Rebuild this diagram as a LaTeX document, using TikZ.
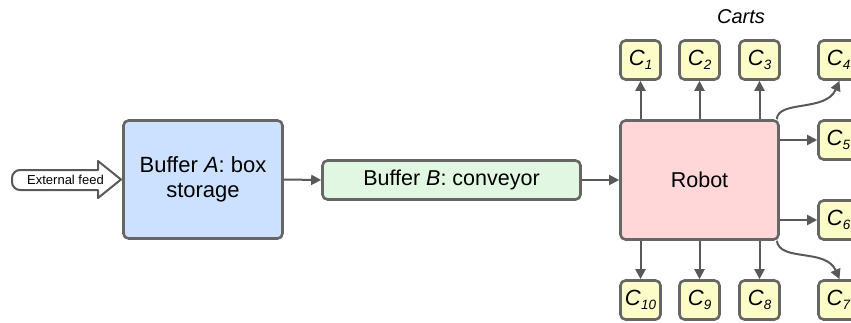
\documentclass[tikz,border=0pt]{standalone}
\usepackage{fontspec}
\setmainfont{Liberation Sans}
\usetikzlibrary{arrows.meta}
\definecolor{bord}{HTML}{666666}
\definecolor{arrc}{HTML}{595959}
\definecolor{blueF}{HTML}{CCE1FF}
\definecolor{greenF}{HTML}{E1F7E1}
\definecolor{redF}{HTML}{FFD7D9}
\definecolor{cartF}{HTML}{FCFCC8}
\newcommand{\cartlab}[1]{\textit{C}{\fontsize{13.5}{13.5}\selectfont\raisebox{-4.5pt}{\textit{#1}}}}
\tikzset{
  boxA/.style={draw=bord, line width=2.6pt, rounded corners=5pt, align=center, inner sep=0pt},
  cartbox/.style={boxA, fill=cartF, minimum width=40pt, minimum height=39pt, font=\fontsize{22}{22}\selectfont},
  arr/.style={draw=arrc, line width=2pt, -{Triangle[length=10pt,width=10pt]}},
}
\begin{document}
\begin{tikzpicture}[x=1pt,y=-1pt]
\useasboundingbox (0,0) rectangle (851,322);
\clip (0,0) rectangle (851,322);
% external feed
\draw[draw=arrc, fill=white, line width=2pt, line join=round]
  (98,161) -- (121,179.5) -- (98,198) -- (98,190)
  [rounded corners=8pt] -- (12,190) -- (12,170) [sharp corners] -- (98,170) -- cycle;
\node[font=\fontsize{13}{13}\selectfont] (feed) at (65.5,179.5) {External feed};
% main boxes
\node[boxA, fill=blueF, minimum width=159pt, minimum height=118pt, font=\fontsize{22}{25}\selectfont] (bufA) at (203,179.5) {Buffer \textit{A}: box\\storage};
\node[boxA, fill=greenF, minimum width=258pt, minimum height=39pt, font=\fontsize{21.5}{21.5}\selectfont] (bufB) at (451.5,180) {Buffer \textit{B}: conveyor};
\node[boxA, fill=redF, minimum width=158pt, minimum height=119pt, font=\fontsize{21.5}{21.5}\selectfont] (robot) at (699.5,180) {Robot};
% carts
\node[cartbox] (c1) at (640.5,60) {\cartlab{1}};
\node[cartbox] (c2) at (699.5,60) {\cartlab{2}};
\node[cartbox] (c3) at (759.5,60) {\cartlab{3}};
\node[cartbox] (c4) at (838.5,60) {\cartlab{4}};
\node[cartbox] (c5) at (838.5,140) {\cartlab{5}};
\node[cartbox] (c6) at (838.5,220) {\cartlab{6}};
\node[cartbox] (c7) at (838.5,300) {\cartlab{7}};
\node[cartbox] (c8) at (759.5,300) {\cartlab{8}};
\node[cartbox] (c9) at (699.5,300) {\cartlab{9}};
\node[cartbox] (c10) at (640.5,300) {\cartlab{10}};
\node[font=\fontsize{20}{20}\selectfont\itshape] (carts) at (741,17) {Carts};
% connectors
\draw[arr] (bufA.east) -- (bufB.west);
\draw[arr] (bufB.east) -- (robot.west);
\draw[arr] (c1 |- robot.north) -- (c1.south);
\draw[arr] (c2 |- robot.north) -- (c2.south);
\draw[arr] (c3 |- robot.north) -- (c3.south);
\draw[arr] (c10 |- robot.south) -- (c10.north);
\draw[arr] (c9 |- robot.south) -- (c9.north);
\draw[arr] (c8 |- robot.south) -- (c8.north);
\draw[arr] (robot.east |- c5) -- (c5.west);
\draw[arr] (robot.east |- c6) -- (c6.west);
\coordinate (r4) at ([xshift=-3pt]robot.north east);
\coordinate (r7) at ([xshift=-3pt]robot.south east);
\coordinate (t4) at ([xshift=1pt]c4.south);
\coordinate (t7) at ([xshift=1pt]c7.north);
\draw[arr] (r4) .. controls (778,100) and (826,112) .. (t4);
\draw[arr] (r7) .. controls (780,262) and (826,248) .. (t7);
\end{tikzpicture}
\end{document}
